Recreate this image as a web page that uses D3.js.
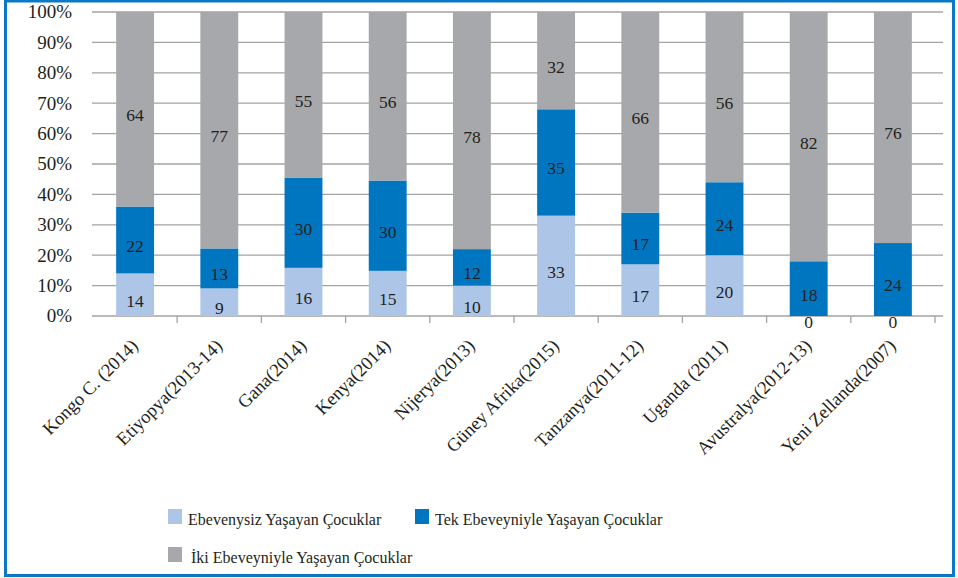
<!DOCTYPE html>
<html>
<head>
<meta charset="utf-8">
<script src="https://cdn.jsdelivr.net/npm/d3@7"></script>
<style>
  body { margin: 0; background: #fff; }
</style>
</head>
<body>
<svg id="chart" width="958" height="578"></svg>
<script>
// data
const categories = ["Kongo C. (2014)", "Etiyopya(2013-14)", "Gana(2014)", "Kenya(2014)", "Nijerya(2013)",
  "Güney Afrika(2015)", "Tanzanya(2011-12)", "Uganda (2011)", "Avustralya(2012-13)", "Yeni Zellanda(2007)"];
const ebevenysiz = [14, 9, 16, 15, 10, 33, 17, 20, 0, 0];
const tekEbeveyn = [22, 13, 30, 30, 12, 35, 17, 24, 18, 24];
const ikiEbeveyn = [64, 77, 55, 56, 78, 32, 66, 56, 82, 76];
const seriesNames = ["Ebevenysiz Yaşayan Çocuklar", "Tek Ebeveyniyle Yaşayan Çocuklar", "İki Ebeveyniyle Yaşayan Çocuklar"];
const yTicks = [0, 10, 20, 30, 40, 50, 60, 70, 80, 90, 100];

const colors = ["#adc6e8", "#0076c0", "#a6a8ab"];
const FONT = "Liberation Serif";
const TEXT = "#231f20";

const svg = d3.select("#chart");

// border frame
svg.append("rect")
  .attr("x", 5.5).attr("y", 1)
  .attr("width", 948).attr("height", 574.5)
  .attr("fill", "none")
  .attr("stroke", "#0a78c4")
  .attr("stroke-width", 3);

const x = d3.scaleBand().domain(categories).range([93, 935]).paddingInner(0.55).paddingOuter(0.275);
const y = d3.scaleLinear().domain([0, 100]).range([316, 12]);

// gridlines
svg.append("g").selectAll("line")
  .data(yTicks)
  .join("line")
  .attr("x1", 92).attr("x2", 943)
  .attr("y1", d => y(d)).attr("y2", d => y(d))
  .attr("stroke", "#a3a3a3")
  .attr("stroke-width", 1.3);

// y tick labels
svg.append("g").selectAll("text")
  .data(yTicks)
  .join("text")
  .attr("x", 72)
  .attr("y", d => y(d))
  .attr("dy", "0.34em")
  .attr("text-anchor", "end")
  .attr("font-family", FONT).attr("fill", TEXT)
  .attr("font-size", 19)
  .text(d => d + "%");

// x axis ticks (between categories)
const step = x.step();
const tickXs = categories.map((c, i) => 93 + step * (i + 1));
svg.append("g").selectAll("line")
  .data(tickXs)
  .join("line")
  .attr("x1", d => d).attr("x2", d => d)
  .attr("y1", 316).attr("y2", 323)
  .attr("stroke", "#a3a3a3")
  .attr("stroke-width", 1.3);

// stacked data, expanded to 100%
const keys = ["s0", "s1", "s2"];
const rows = categories.map((c, i) => ({cat: c, s0: ebevenysiz[i], s1: tekEbeveyn[i], s2: ikiEbeveyn[i]}));
const layers = d3.stack().keys(keys).offset(d3.stackOffsetExpand)(rows);

const g = svg.append("g");
layers.forEach((layer, li) => {
  g.selectAll(null)
    .data(layer)
    .join("rect")
    .attr("x", d => x(d.data.cat))
    .attr("width", x.bandwidth())
    .attr("y", d => y(d[1] * 100))
    .attr("height", d => y(d[0] * 100) - y(d[1] * 100))
    .attr("fill", colors[li]);
});

// value labels
layers.forEach((layer, li) => {
  g.selectAll(null)
    .data(layer)
    .join("text")
    .attr("x", d => x(d.data.cat) + x.bandwidth() / 2)
    .attr("y", d => (y(d[0] * 100) + y(d[1] * 100)) / 2 + 6)
    .attr("dy", "0.34em")
    .attr("text-anchor", "middle")
    .attr("font-family", FONT).attr("fill", TEXT)
    .attr("font-size", 17.5)
    .text(d => d.data[keys[li]]);
});

// category labels, rotated
svg.append("g").selectAll("text")
  .data(categories)
  .join("text")
  .attr("transform", d => `translate(${x(d) + x.bandwidth() / 2 + 4},${347}) rotate(-45)`)
  .attr("text-anchor", "end")
  .attr("font-family", FONT).attr("fill", TEXT)
  .attr("font-size", 18.5)
  .text(d => d);

// legend
const legendPos = [[168, 509], [415, 509], [168, 547]];
const legend = svg.append("g").selectAll("g")
  .data(seriesNames)
  .join("g")
  .attr("transform", (d, i) => `translate(${legendPos[i][0]},${legendPos[i][1]})`);
legend.append("rect")
  .attr("width", 14).attr("height", 15)
  .attr("fill", (d, i) => colors[i]);
legend.append("text")
  .attr("x", (d, i) => i == 2 ? 23 : 20)
  .attr("y", 16)
  .attr("font-family", FONT).attr("fill", TEXT)
  .attr("font-size", 16)
  .text(d => d);
</script>
</body>
</html>
